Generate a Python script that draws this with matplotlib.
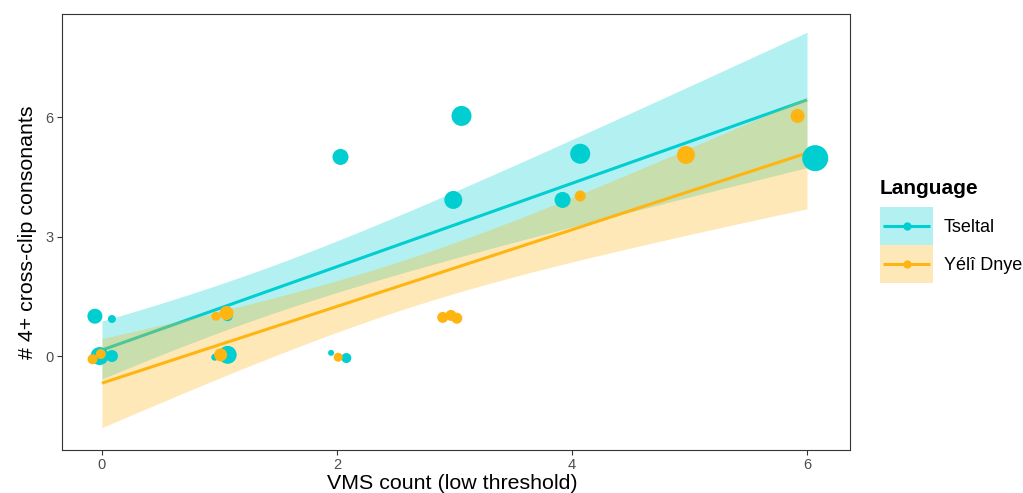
import numpy as np
import matplotlib
matplotlib.use("Agg")
import matplotlib.pyplot as plt
from matplotlib.patches import Rectangle

plt.rcParams['font.family'] = ['Liberation Sans', 'DejaVu Sans']

languages = ["Tseltal", "Yélî Dnye"]
colors = ["#00CED1", "#FFB511"]

# jittered observations (x = VMS count, y = # 4+ cross-clip consonants), size = point diameter (px)
tseltal_x = [-0.06, 0.085, 0.085, -0.02, 0.96, 1.07, 1.07, 1.95, 2.08, 2.03, 3.06, 2.99, 3.92, 4.07, 6.07]
tseltal_y = [1.0, 0.93, 0.0, 0.0, -0.03, 1.0, 0.03, 0.08, -0.05, 5.0, 6.03, 3.92, 3.92, 5.08, 4.97]
tseltal_size = [15, 8, 12, 18, 7, 10, 18, 6, 10, 16, 20, 18, 16, 20, 26]

yeli_x = [-0.08, -0.01, 1.01, 0.97, 1.06, 2.01, 2.9, 2.97, 3.02, 4.07, 4.97, 5.92]
yeli_y = [-0.08, 0.05, 0.03, 1.0, 1.08, -0.03, 0.97, 1.02, 0.95, 4.02, 5.05, 6.03]
yeli_size = [10, 10, 13, 9, 14, 9, 11, 11, 11, 11, 18, 14]

# linear fits: intercept, slope, min CI half-width, its x, curvature
tseltal_fit = dict(intercept=0.15, slope=1.047, hmin=0.597, xmid=1.245, curv=0.112)
yeli_fit = dict(intercept=-0.68, slope=0.963, hmin=0.616, xmid=2.556, curv=0.1334)

x_ticks = [0, 2, 4, 6]
y_ticks = [0, 3, 6]

W, H = 1023, 493
fig = plt.figure(figsize=(W/100, H/100), dpi=100)
ax = fig.add_axes([62/W, 1-450/H, (850-62)/W, (450-14)/H])

xs = np.linspace(0, 6, 200)
for i, fit in enumerate([tseltal_fit, yeli_fit]):
    line = fit['intercept'] + fit['slope'] * xs
    half = np.sqrt(fit['hmin']**2 + fit['curv'] * (xs - fit['xmid'])**2)
    ax.fill_between(xs, line - half, line + half, color=colors[i], alpha=0.3,
                    linewidth=0, zorder=1 + 2*i)
    ax.plot(xs, line, color=colors[i], lw=2.2, zorder=2 + 2*i, solid_capstyle='butt')

def px2s(d):
    return (np.asarray(d) * 0.72) ** 2

ax.scatter(tseltal_x, tseltal_y, s=px2s(tseltal_size), color=colors[0], linewidths=0, zorder=6)
ax.scatter(yeli_x, yeli_y, s=px2s(yeli_size), color=colors[1], linewidths=0, zorder=7)

ax.set_xlim(-0.34, 6.366)
ax.set_ylim(-2.36, 8.59)
ax.set_xticks(x_ticks)
ax.set_yticks(y_ticks)
ax.tick_params(colors='#333333', labelcolor='#4D4D4D', labelsize=10.5, length=3.5, width=0.8, pad=2.5)
for s in ax.spines.values():
    s.set_color('#333333')
    s.set_linewidth(0.8)
ax.set_ylabel("# 4+ cross-clip consonants", fontsize=15.4, labelpad=6)

# manual legend / x title in pixel coordinates
lax = fig.add_axes([0, 0, 1, 1], zorder=10)
lax.set_xlim(0, W)
lax.set_ylim(H, 0)
lax.axis('off')
lax.text(452, 489, "VMS count (low threshold)", fontsize=15.4, ha='center', va='baseline')
lax.text(880, 194, "Language", fontsize=15, fontweight='bold', ha='left', va='baseline')
key_top = 207
key_h = 38
for i, lab in enumerate(languages):
    y0 = key_top + i * key_h
    lax.add_patch(Rectangle((880, y0), 53, key_h, facecolor=colors[i], alpha=0.3, edgecolor='none'))
    yc = y0 + key_h / 2
    lax.plot([883, 930], [yc, yc], color=colors[i], lw=2.2, solid_capstyle='butt')
    lax.plot([906.5], [yc], 'o', color=colors[i], markersize=6, markeredgewidth=0)
    lax.text(944, yc + 6.5, lab, fontsize=13, ha='left', va='baseline', color='black')

fig.savefig("out.png", dpi=100)
